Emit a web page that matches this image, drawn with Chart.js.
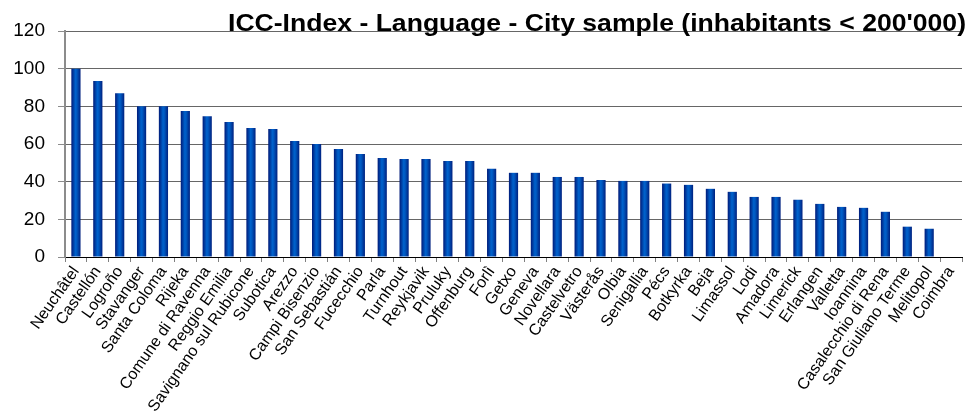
<!DOCTYPE html>
<html>
<head>
<meta charset="utf-8">
<title>ICC-Index - Language</title>
<script src="https://cdn.jsdelivr.net/npm/chart.js@4/dist/chart.umd.min.js"></script>
<style>
  html, body { margin: 0; padding: 0; background: #fff; }
  #wrap { width: 970px; height: 420px; position: relative; }
</style>
</head>
<body>
<div id="wrap"><canvas id="chart"></canvas></div>
<script>
const cities = [
    "Neuchâtel", "Castellón", "Logroño", "Stavanger", "Santa Coloma", "Rijeka",
    "Comune di Ravenna", "Reggio Emilia", "Savignano sul Rubicone", "Subotica",
    "Arezzo", "Campi Bisenzio", "San Sebastián", "Fucecchio", "Parla", "Turnhout",
    "Reykjavik", "Pruluky", "Offenburg", "Forlì", "Getxo", "Geneva", "Novellara",
    "Castelvetro", "Västerås", "Olbia", "Senigallia", "Pécs", "Botkyrka", "Beja",
    "Limassol", "Lodi", "Amadora", "Limerick", "Erlangen", "Valletta", "Ioannina",
    "Casalecchio di Rena", "San Giuliano Terme", "Melitopol", "Coimbra"
];

const indexValues = [
    100, 93.4, 87, 80, 80, 77.5,
    74.8, 71.7, 68.5, 67.9,
    61.6, 60, 57.3, 54.7, 52.6, 52.1,
    52.1, 51, 51, 46.8, 44.7, 44.7, 42.5,
    42.5, 40.9, 40.4, 40.4, 39, 38.3, 36.2,
    34.6, 31.9, 31.9, 30.4, 28.2, 26.6, 26.1,
    24, 16.1, 15, 0
];

const yTicks = [0, 20, 40, 60, 80, 100, 120];

const chartTitle = "ICC-Index - Language - City sample (inhabitants < 200'000)";

const BAR_PCT = 0.42;

// cylinder look: dark edges, lighter blue in the middle
function barGradient(context) {
    const chart = context.chart;
    const xScale = chart.scales.x;
    if (!chart.chartArea || !xScale || context.dataIndex === undefined) return '#0050b8';
    const cx = xScale.getPixelForValue(context.dataIndex);
    const half = (xScale.width / cities.length) * BAR_PCT / 2;
    const g = chart.ctx.createLinearGradient(cx - half, 0, cx + half, 0);
    g.addColorStop(0, '#001a78');
    g.addColorStop(0.45, '#0062cc');
    g.addColorStop(0.6, '#0058c0');
    g.addColorStop(1, '#00207e');
    return g;
}

// title sits over the top of the plot area, slightly widened
const titlePlugin = {
    id: 'overTitle',
    afterDraw(chart) {
        const ctx = chart.ctx;
        const right = 966, left = 228;
        ctx.save();
        ctx.font = 'bold 24px "Liberation Sans", Arial, sans-serif';
        const w = ctx.measureText(chartTitle).width;
        const sx = (right - left) / w;
        ctx.translate(left, 31);
        ctx.scale(sx, 1);
        ctx.fillStyle = '#000';
        ctx.textAlign = 'left';
        ctx.textBaseline = 'alphabetic';
        ctx.fillText(chartTitle, 0, 0);
        ctx.restore();
    }
};

const ctx = document.getElementById('chart');
new Chart(ctx, {
    type: 'bar',
    data: {
        labels: cities,
        datasets: [{
            data: indexValues,
            backgroundColor: barGradient,
            borderWidth: 0,
            barPercentage: BAR_PCT,
            categoryPercentage: 1
        }]
    },
    options: {
        responsive: true,
        maintainAspectRatio: false,
        animation: false,
        layout: { padding: { top: 31, right: 8, left: 0, bottom: 0 } },
        plugins: {
            legend: { display: false },
            title: { display: false },
            tooltip: { enabled: false }
        },
        scales: {
            x: {
                offset: true,
                grid: {
                    offset: true,
                    drawOnChartArea: false,
                    drawTicks: true,
                    tickLength: 5,
                    tickColor: '#808080'
                },
                border: { color: '#000', width: 1 },
                ticks: {
                    autoSkip: false,
                    maxRotation: 55,
                    minRotation: 55,
                    padding: 1,
                    color: '#000',
                    font: { family: '"Liberation Sans", Arial, sans-serif', size: 16 }
                },
                afterFit(scale) { scale.height = 163; }
            },
            y: {
                min: 0,
                max: 120,
                afterBuildTicks(scale) { scale.ticks = yTicks.map(v => ({ value: v })); },
                grid: {
                    color: '#666',
                    lineWidth: 1,
                    borderDash: [1, 1],
                    drawTicks: true,
                    tickLength: 7,
                    tickColor: '#8c8c8c',
                    tickBorderDash: []
                },
                border: { color: '#8c8c8c', width: 2 },
                ticks: {
                    padding: 13,
                    color: '#000',
                    font: { family: '"Liberation Sans", Arial, sans-serif', size: 19 }
                },
                afterFit(scale) { scale.width = 65; }
            }
        }
    },
    plugins: [titlePlugin]
});
</script>
</body>
</html>
